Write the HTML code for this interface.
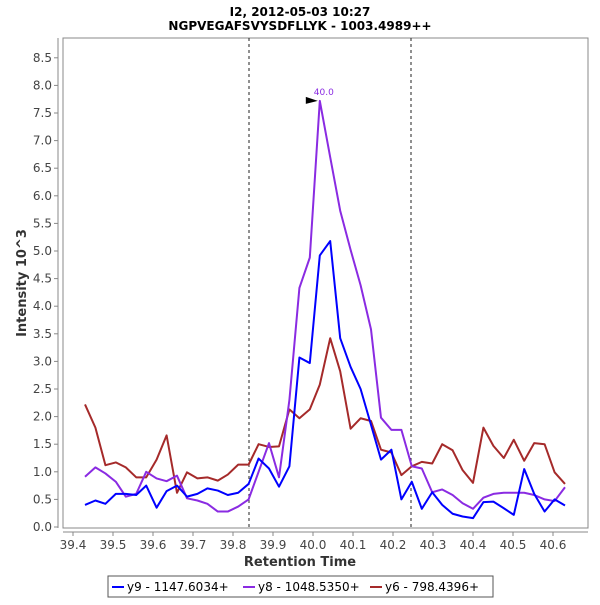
<!DOCTYPE html>
<html><head><meta charset="utf-8"><style>
body{margin:0;background:#fff;font-family:"Liberation Sans","DejaVu Sans",sans-serif}
</style></head><body>
<svg id="c" width="600" height="600" xmlns="http://www.w3.org/2000/svg">
<text x="300" y="16" text-anchor="middle" font-size="12" font-weight="bold" font-family="DejaVu Sans,sans-serif">I2, 2012-05-03 10:27</text>
<text x="300" y="30" text-anchor="middle" font-size="12" font-weight="bold" font-family="DejaVu Sans,sans-serif">NGPVEGAFSVYSDFLLYK - 1003.4989++</text>
<rect x="63" y="38" width="525" height="490" fill="#fff" stroke="#888"/>
<g id="ax"></g><g id="series"></g>
<text x="300" y="566" text-anchor="middle" font-size="13" font-weight="bold" font-family="DejaVu Sans,sans-serif" fill="#333">Retention Time</text>
<text transform="translate(26,283) rotate(-90)" text-anchor="middle" font-size="13" font-weight="bold" font-family="DejaVu Sans,sans-serif" fill="#333">Intensity 10^3</text>
<g>
<rect x="108" y="576" width="385" height="21" fill="#fff" stroke="#555"/>
<line x1="112" y1="587" x2="124" y2="587" stroke="#0000ff" stroke-width="2"/>
<text x="127" y="591" font-size="12" font-family="DejaVu Sans,sans-serif">y9 - 1147.6034+</text>
<line x1="243" y1="587" x2="255" y2="587" stroke="#8a2be2" stroke-width="2"/>
<text x="258" y="591" font-size="12" font-family="DejaVu Sans,sans-serif">y8 - 1048.5350+</text>
<line x1="370" y1="587" x2="382" y2="587" stroke="#a52a2a" stroke-width="2"/>
<text x="385" y="591" font-size="12" font-family="DejaVu Sans,sans-serif">y6 - 798.4396+</text>
</g>
</svg>
<script>
const times=[39.430,39.456,39.481,39.507,39.532,39.558,39.583,39.609,39.634,39.660,39.685,39.711,39.736,39.762,39.787,39.813,39.839,39.864,39.890,39.915,39.941,39.966,39.992,40.017,40.043,40.068,40.094,40.119,40.145,40.170,40.196,40.221,40.247,40.272,40.298,40.323,40.349,40.374,40.400,40.426,40.451,40.477,40.502,40.528,40.553,40.579,40.604,40.630];
const y9=[0.4,0.48,0.42,0.6,0.6,0.58,0.75,0.35,0.65,0.75,0.55,0.6,0.7,0.66,0.58,0.62,0.78,1.24,1.06,0.73,1.1,3.07,2.97,4.92,5.18,3.42,2.9,2.5,1.85,1.22,1.4,0.5,0.82,0.33,0.63,0.4,0.24,0.19,0.16,0.45,0.46,0.34,0.22,1.05,0.6,0.28,0.5,0.39];
const y8=[0.91,1.08,0.97,0.82,0.55,0.6,1.0,0.88,0.83,0.93,0.52,0.48,0.42,0.28,0.28,0.37,0.5,1.0,1.52,0.9,2.3,4.33,4.88,7.72,6.7,5.73,5.02,4.38,3.58,1.98,1.76,1.76,1.1,1.06,0.63,0.68,0.58,0.43,0.33,0.53,0.6,0.62,0.62,0.62,0.58,0.5,0.47,0.72];
const y6=[2.22,1.8,1.12,1.17,1.08,0.9,0.9,1.22,1.66,0.62,0.99,0.88,0.9,0.84,0.95,1.13,1.13,1.5,1.45,1.46,2.13,1.97,2.13,2.58,3.42,2.82,1.78,1.97,1.92,1.4,1.35,0.94,1.1,1.18,1.15,1.5,1.39,1.03,0.8,1.8,1.47,1.25,1.58,1.2,1.52,1.5,0.99,0.78];
const xTicks=["39.4","39.5","39.6","39.7","39.8","39.9","40.0","40.1","40.2","40.3","40.4","40.5","40.6"];
const yTicks=["0.0","0.5","1.0","1.5","2.0","2.5","3.0","3.5","4.0","4.5","5.0","5.5","6.0","6.5","7.0","7.5","8.0","8.5"];
const boundaries=[39.84,40.245];
const peakTime=40.017, peakVal=7.72, peakLabel="40.0";
const X=v=>313+(v-40)*400, Y=v=>527-v*55.2;
const NS="http://www.w3.org/2000/svg";
function mk(p,t,a){const e=document.createElementNS(NS,t);for(const k in a)e.setAttribute(k,a[k]);p.appendChild(e);return e;}
const ax=document.getElementById('ax');
const xl=mk(ax,'line',{x1:63,y1:532,x2:588,y2:532,stroke:'#888'});


const yl=mk(ax,'line',{x1:58,y1:38,x2:58,y2:528,stroke:'#888'});


xTicks.forEach(t=>{const x=X(+t);
 mk(ax,'line',{x1:x,y1:532,x2:x,y2:536,stroke:'#888'});
 const tx=mk(ax,'text',{x:x,y:549,'text-anchor':'middle','font-size':12,'font-family':'DejaVu Sans,sans-serif',fill:'#444'});tx.textContent=t;
 
 });
yTicks.forEach(t=>{const y=Y(+t);
 mk(ax,'line',{x1:54,y1:y,x2:58,y2:y,stroke:'#888'});
 const tx=mk(ax,'text',{x:52,y:y+4,'text-anchor':'end','font-size':12,'font-family':'DejaVu Sans,sans-serif',fill:'#444'});tx.textContent=t;
 
 });
boundaries.forEach(b=>{const l=mk(ax,'line',{x1:X(b),y1:38,x2:X(b),y2:528,stroke:'#222','stroke-dasharray':'3,3'});
 
 });
const sg=document.getElementById('series');
[[y6,'#a52a2a','series-y6'],[y8,'#8a2be2','series-y8'],[y9,'#0000ff','series-y9']].forEach(([d,c,n])=>{
 const p=mk(sg,'polyline',{points:d.map((v,i)=>X(times[i])+','+Y(v)).join(' '),fill:'none',stroke:c,'stroke-width':2,'stroke-linejoin':'round'});
 
 });
const px=X(peakTime),py=Y(peakVal);
const ar=mk(sg,'polygon',{points:`${px-14},${py-4} ${px-2},${py} ${px-14},${py+3}`,fill:'#000'});


const pl=mk(sg,'text',{x:px+4,y:py-6,'text-anchor':'middle','font-size':9,'font-family':'DejaVu Sans,sans-serif',fill:'#8a2be2'});pl.textContent=peakLabel;


</script>
</body></html>
